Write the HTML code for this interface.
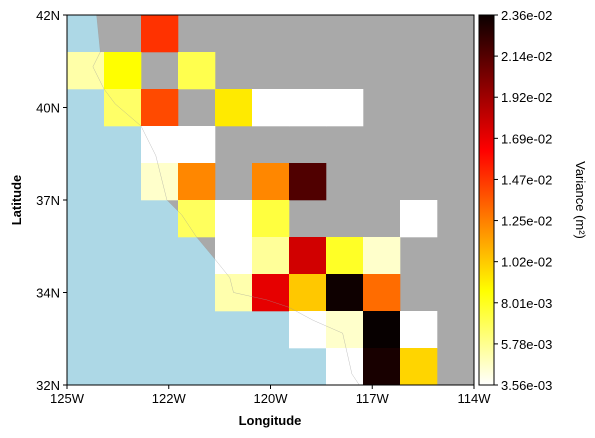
<!DOCTYPE html>
<html><head><meta charset="utf-8"><style>
html,body{margin:0;padding:0;background:#fff;}
svg{display:block;font-family:"Liberation Sans",sans-serif;}
</style></head><body>
<svg id="chart" width="595" height="438">
<defs><clipPath id="mapclip"><rect x="67" y="15" width="407" height="370"/></clipPath>
<linearGradient id="cbgrad" x1="0" y1="1" x2="0" y2="0">
<stop offset="0" stop-color="#ffffff"/><stop offset="0.254" stop-color="#ffff00"/><stop offset="0.635" stop-color="#ff0000"/><stop offset="1" stop-color="#0b0000"/>
</linearGradient></defs>
<g id="map" clip-path="url(#mapclip)"></g>
<g id="cells" clip-path="url(#mapclip)"></g>
<rect x="67" y="15" width="407" height="370" fill="none" stroke="#000" stroke-width="1"/>
<g id="axes"></g>
<rect x="479" y="15" width="15" height="370" fill="url(#cbgrad)" stroke="#000" stroke-width="1"/>
<g id="cbar"></g>
<text x="270" y="425" font-size="13" font-weight="bold" text-anchor="middle">Longitude</text>
<text x="0" y="0" font-size="13" font-weight="bold" text-anchor="middle" transform="translate(21,200) rotate(-90)">Latitude</text>
<text x="0" y="0" font-size="13" text-anchor="middle" transform="translate(576,200) rotate(90)">Variance (m²)</text>
</svg>
<script>
const lonTicks = [-125, -122.25, -119.5, -116.75, -114];
const lonLabels = ["125W", "122W", "120W", "117W", "114W"];
const latTicks = [42, 39.5, 37, 34.5, 32];
const latLabels = ["42N", "40N", "37N", "34N", "32N"];
const cbTickLabels = ["3.56e-03","5.78e-03","8.01e-03","1.02e-02","1.25e-02","1.47e-02","1.69e-02","1.92e-02","2.14e-02","2.36e-02"];
const vMin = 3.56e-3, vMax = 2.36e-2;
const cellLon = [-123,-125,-124,-122,-124,-123,-121,-120,-119,-118,-123,-122,-123,-122,-120,-119,-122,-121,-120,-116,-121,-120,-119,-118,-117,-121,-120,-119,-118,-117,-119,-118,-117,-116,-118,-117,-116];
const cellLat = [41,40,40,40,39,39,39,39,39,39,38,38,37,37,37,37,36,36,36,36,35,35,35,35,35,34,34,34,34,34,33,33,33,33,32,32,32];
const cellVal = [14.8e-3,5.3e-3,8.7e-3,7.1e-3,6.6e-3,14.1e-3,9.4e-3,3.56e-3,3.56e-3,3.56e-3,3.56e-3,3.56e-3,4.6e-3,12.3e-3,12.3e-3,21.3e-3,6.8e-3,3.56e-3,7.4e-3,3.56e-3,3.56e-3,5.6e-3,17.6e-3,7.9e-3,4.6e-3,5.2e-3,17.0e-3,10.4e-3,23.2e-3,13.1e-3,3.56e-3,4.6e-3,23.4e-3,3.56e-3,3.56e-3,22.9e-3,10.0e-3];
const coastLon = [-124.2,-124.1,-124.3,-124.0,-123.7,-123.0,-122.6,-122.3,-121.9,-121.5,-121.05,-120.6,-120.5,-119.6,-119.0,-118.35,-117.55,-117.3,-117.1];
const coastLat = [42,41,40.6,40,39.6,39,38.2,37.0,36.6,36.0,35.46,34.9,34.5,34.3,34.1,33.75,33.4,32.3,32];

const NS='http://www.w3.org/2000/svg';
const X = lon => 67 + (lon + 125) * 37;
const Y = lat => 15 + (42 - lat) * 37;
function mk(tag, attrs, parent){const e=document.createElementNS(NS,tag);for(const k in attrs)e.setAttribute(k,attrs[k]);parent.appendChild(e);return e;}
function hotR(v){
  let t=(v-vMin)/(vMax-vMin); t=Math.max(0,Math.min(1,t)); const x=1-t;
  const c=a=>Math.round(255*Math.max(0,Math.min(1,a)));
  return `rgb(${c(x/0.365)},${c((x-0.365)/0.375)},${c((x-0.746)/0.254)})`;
}
const map=document.getElementById('map');
const ocean=mk('rect',{x:67,y:15,width:407,height:370,fill:'#add8e6'},map);


let pts=coastLon.map((l,i)=>X(l)+','+Y(coastLat[i]));
pts.push(X(-114)+','+Y(32)); pts.push(X(-114)+','+Y(42));
const land=mk('polygon',{points:pts.join(' '),fill:'#a9a9a9'},map);


const cells=document.getElementById('cells');
cellVal.forEach((v,i)=>{
  const r=mk('rect',{x:X(cellLon[i]),y:Y(cellLat[i]+1),width:37.3,height:37.3,fill:hotR(v)},cells);
  
  
});
const coast=mk('polyline',{points:coastLon.map((l,i)=>X(l)+','+Y(coastLat[i])).join(' '),fill:'none',stroke:'#999',"stroke-width":0.5,opacity:0.6},cells);


const axes=document.getElementById('axes');
lonTicks.forEach((l,i)=>{
  mk('line',{x1:X(l),x2:X(l),y1:385,y2:389,stroke:'#000'},axes);
  const t=mk('text',{x:X(l),y:403,"font-size":13,"text-anchor":"middle"},axes);
  t.textContent=lonLabels[i];
  
  
});
latTicks.forEach((l,i)=>{
  mk('line',{x1:63,x2:67,y1:Y(l),y2:Y(l),stroke:'#000'},axes);
  const t=mk('text',{x:60,y:Y(l)+5,"font-size":13,"text-anchor":"end"},axes);
  t.textContent=latLabels[i];
  
  
});
const cb=document.getElementById('cbar');
cbTickLabels.forEach((s,i)=>{
  const y=385-i*370/(cbTickLabels.length-1);
  mk('line',{x1:494,x2:498,y1:y,y2:y,stroke:'#000'},cb);
  const t=mk('text',{x:501,y:y+5,"font-size":13},cb);
  t.textContent=s;
  
  
});
</script>
</body></html>
